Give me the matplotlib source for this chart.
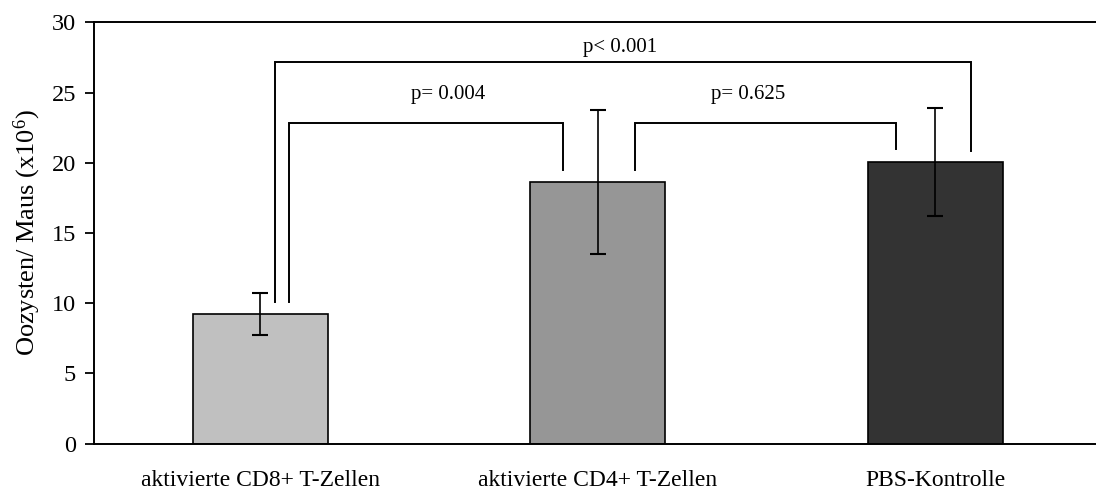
import matplotlib

matplotlib.use("Agg")

import matplotlib.pyplot as plt
import numpy as np

plt.rcParams["font.family"] = ["Liberation Serif", "DejaVu Serif"]
plt.rcParams["mathtext.fontset"] = "custom"
plt.rcParams["mathtext.rm"] = "Liberation Serif"
plt.rcParams["mathtext.it"] = "Liberation Serif:italic"

groups = [
    "aktivierte CD8+ T-Zellen",
    "aktivierte CD4+ T-Zellen",
    "PBS-Kontrolle",
]
means = [9.25, 18.63, 20.05]
errors = [1.5, 5.1, 3.85]
bar_colors = ["#c0c0c0", "#969696", "#333333"]

# significance brackets: (x_left, x_right, y_top, y_left_end, y_right_end)
brackets = [
    (0.043, 2.104, 27.15, 10.1, 20.83),
    (0.086, 0.896, 22.8, 10.1, 19.5),
    (1.110, 1.882, 22.8, 19.5, 20.95),
]
p_labels = ["p< 0.001", "p= 0.004", "p= 0.625"]
p_label_pos = [(1.065, 27.9), (0.556, 24.51), (1.444, 24.51)]

fig = plt.figure(figsize=(10.96, 4.92), dpi=100)
ax = fig.add_axes([0.0855, 0.0982, 0.918, 0.8565])

x = np.arange(len(groups))

ax.bar(
    x,
    means,
    width=0.4,
    color=bar_colors,
    edgecolor="black",
    linewidth=1.2,
    zorder=2,
)

ax.errorbar(
    x,
    means,
    yerr=errors,
    fmt="none",
    ecolor="black",
    elinewidth=1.2,
    capsize=5.5,
    capthick=1.5,
    zorder=3,
)

for (x0, x1, ytop, yl, yr) in brackets:
    ax.plot(
        [x0, x0, x1, x1],
        [yl, ytop, ytop, yr],
        color="black",
        linewidth=1.4,
        solid_joinstyle="miter",
        zorder=3,
    )

for text, (tx, ty) in zip(p_labels, p_label_pos):
    ax.text(tx, ty, text, ha="center", va="baseline", fontsize=15)

ax.set_xlim(-0.494, 2.487)
ax.set_ylim(0, 30)
ax.set_yticks(np.arange(0, 31, 5))
ax.set_xticks(x)
ax.set_xticklabels(groups, fontsize=17)
ax.tick_params(axis="x", length=0, pad=19)
ax.tick_params(axis="y", labelsize=17.5, length=6.3, width=1.3,
               direction="out", pad=6.5)

for side in ["left", "bottom", "top"]:
    ax.spines[side].set_linewidth(1.4)
ax.spines["right"].set_visible(False)

ax.set_ylabel("Oozysten/ Maus (x10$^{6}$)", fontsize=19, labelpad=6)

fig.savefig("out.png", dpi=100)
plt.close(fig)
